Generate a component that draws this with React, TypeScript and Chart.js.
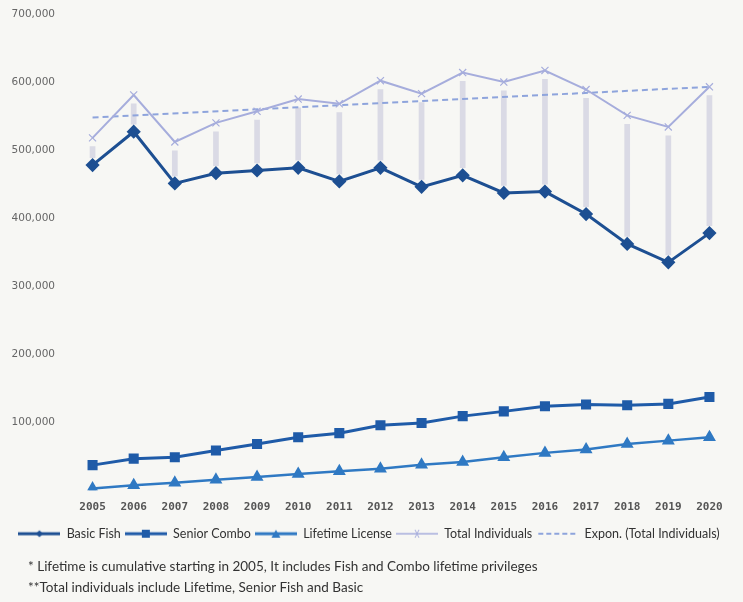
import React, { useEffect, useRef } from "react";
import { Chart, registerables } from "chart.js";

Chart.register(...registerables);

const years = ["2005", "2006", "2007", "2008", "2009", "2010", "2011", "2012", "2013", "2014", "2015", "2016", "2017", "2018", "2019", "2020"];
const basicFish = [478000, 527000, 451000, 466000, 470000, 474000, 454000, 474000, 446000, 463000, 437000, 439000, 406000, 362000, 335000, 378000];
const seniorCombo = [37000, 46500, 48500, 58500, 68000, 78000, 84000, 95500, 99000, 109000, 116000, 123500, 126000, 125000, 127000, 137000];
const lifetimeLicense = [2500, 7500, 11000, 15500, 19500, 24000, 28000, 31500, 37500, 41500, 48500, 55000, 60000, 68000, 73000, 78000];
const totalIndividuals = [518000, 581000, 512000, 540000, 557000, 575000, 568000, 602000, 583000, 614000, 600000, 617000, 589000, 551000, 534000, 593000];
const exponTrend: (number | null)[] = [548000, null, null, null, null, null, null, null, null, null, null, null, null, null, null, 593000];
const yTicks = [0, 100000, 200000, 300000, 400000, 500000, 600000, 700000];
const footnotes = [
  "* Lifetime is cumulative starting in 2005, It includes Fish and Combo lifetime privileges",
  "**Total individuals include Lifetime, Senior Fish and Basic",
];

const C_BASIC = "#1d4f92";
const C_SENIOR = "#1f5ba8";
const C_LIFE = "#2f79c3";
const C_TOTAL = "#a6addc";
const C_EXPON = "#8ea4dc";

function legendIcon(kind: string, color: string): HTMLCanvasElement {
  const c = document.createElement("canvas");
  c.width = 42;
  c.height = 10;
  const ctx = c.getContext("2d")!;
  ctx.strokeStyle = color;
  ctx.fillStyle = color;
  const my = 5;
  if (kind === "dash") {
    ctx.lineWidth = 2;
    ctx.setLineDash([5, 3]);
    ctx.beginPath();
    ctx.moveTo(2, my);
    ctx.lineTo(40, my);
    ctx.stroke();
    return c;
  }
  ctx.lineWidth = kind === "x" ? 1.5 : 3;
  ctx.beginPath();
  ctx.moveTo(0, my);
  ctx.lineTo(42, my);
  ctx.stroke();
  const cx = 21;
  ctx.beginPath();
  if (kind === "diamond") {
    ctx.moveTo(cx, my - 3.5);
    ctx.lineTo(cx + 3.5, my);
    ctx.lineTo(cx, my + 3.5);
    ctx.lineTo(cx - 3.5, my);
    ctx.closePath();
    ctx.fill();
  } else if (kind === "square") {
    ctx.rect(cx - 4, my - 4, 8, 8);
    ctx.fill();
  } else if (kind === "triangle") {
    ctx.moveTo(cx, my - 4);
    ctx.lineTo(cx + 4.5, my + 4);
    ctx.lineTo(cx - 4.5, my + 4);
    ctx.closePath();
    ctx.fill();
  } else if (kind === "x") {
    ctx.lineWidth = 1;
    ctx.moveTo(cx - 2, my - 4);
    ctx.lineTo(cx + 2, my + 4);
    ctx.moveTo(cx + 2, my - 4);
    ctx.lineTo(cx - 2, my + 4);
    ctx.stroke();
  }
  return c;
}

export default function App() {
  const ref = useRef<HTMLCanvasElement | null>(null);

  useEffect(() => {
    if (!ref.current) return;
    const icons = [
      legendIcon("diamond", C_BASIC),
      legendIcon("square", C_SENIOR),
      legendIcon("triangle", C_LIFE),
      legendIcon("x", C_TOTAL),
      legendIcon("dash", C_EXPON),
    ];
    const spreadBars = years.map((_, i) => [basicFish[i] + 11000, totalIndividuals[i] - 13000]);

    const chart = new Chart(ref.current, {
      type: "line",
      data: {
        labels: years,
        datasets: [
          {
            label: "Basic Fish",
            data: basicFish,
            borderColor: C_BASIC,
            backgroundColor: C_BASIC,
            borderWidth: 3,
            pointStyle: "rectRot",
            pointRadius: 5,
            order: 0,
          },
          {
            label: "Senior Combo",
            data: seniorCombo,
            borderColor: C_SENIOR,
            backgroundColor: C_SENIOR,
            borderWidth: 3,
            pointStyle: "rect",
            pointRadius: 5,
            order: 0,
          },
          {
            label: "Lifetime License",
            data: lifetimeLicense,
            borderColor: C_LIFE,
            backgroundColor: C_LIFE,
            borderWidth: 2.5,
            pointStyle: "triangle",
            pointRadius: 5,
            order: 0,
          },
          {
            label: "Total Individuals",
            data: totalIndividuals,
            borderColor: C_TOTAL,
            backgroundColor: C_TOTAL,
            borderWidth: 2,
            pointStyle: "crossRot",
            pointRadius: 5,
            pointBorderWidth: 1.2,
            order: 0,
          },
          {
            label: "Expon. (Total Individuals)",
            data: exponTrend,
            borderColor: C_EXPON,
            backgroundColor: C_EXPON,
            borderWidth: 2,
            borderDash: [6, 4],
            pointRadius: 0,
            spanGaps: true,
            order: 0,
          },
          {
            type: "bar",
            label: "spread",
            data: spreadBars as any,
            backgroundColor: "rgba(190,190,214,0.5)",
            borderWidth: 0,
            barThickness: 5,
            order: 10,
          } as any,
        ],
      },
      options: {
        responsive: false,
        animation: false,
        layout: { padding: { left: 8, right: 13, top: 14, bottom: 52 } },
        plugins: {
          tooltip: { enabled: false },
          legend: {
            position: "bottom",
            labels: {
              usePointStyle: true,
              pointStyleWidth: 42,
              padding: 4,
              color: "#333",
              font: { family: "Lato", size: 12.5 },
              generateLabels: (chart: any) =>
                chart.data.datasets.slice(0, 5).map((ds: any, i: number) => ({
                  text: ds.label,
                  fillStyle: ds.borderColor,
                  strokeStyle: ds.borderColor,
                  lineWidth: 0,
                  pointStyle: icons[i],
                  datasetIndex: i,
                  hidden: false,
                  fontColor: "#333",
                })),
            },
          },
          title: { display: false },
        },
        scales: {
          x: {
            offset: true,
            grid: { display: false, drawTicks: false },
            border: { display: false },
            ticks: {
              padding: 10,
              color: "#555",
              font: { family: "DejaVu Sans Mono", size: 11, weight: "bold" },
            },
          },
          y: {
            min: 0,
            max: 700000,
            grid: { display: true, drawOnChartArea: false, drawTicks: true, tickLength: 17, color: "rgba(0,0,0,0)" },
            border: { display: false },
            afterBuildTicks: (scale: any) => {
              scale.ticks = yTicks.map((v) => ({ value: v }));
            },
            afterFit: (scale: any) => {
              scale.width = 64;
            },
            ticks: {
              padding: 0,
              color: "#666",
              font: { family: "DejaVu Sans", size: 10.5 },
              callback: (v: any) => (Number(v) === 0 ? "" : Number(v).toLocaleString("en-US")),
            },
          },
        },
      },
    });
    return () => chart.destroy();
  }, []);

  return (
    <div style={{ position: "absolute", left: 0, top: 0, width: 743, height: 602, background: "#f7f7f4", overflow: "hidden" }}>
      <canvas ref={ref} width={743} height={602} style={{ position: "absolute", left: 0, top: 0 }} />
      <div style={{ position: "absolute", left: 28, top: 556, fontFamily: "Lato", fontSize: 13.5, color: "#333", lineHeight: "21px", whiteSpace: "nowrap" }}>
        {footnotes.map((f, i) => (
          <div key={i}>{f}</div>
        ))}
      </div>
    </div>
  );
}
